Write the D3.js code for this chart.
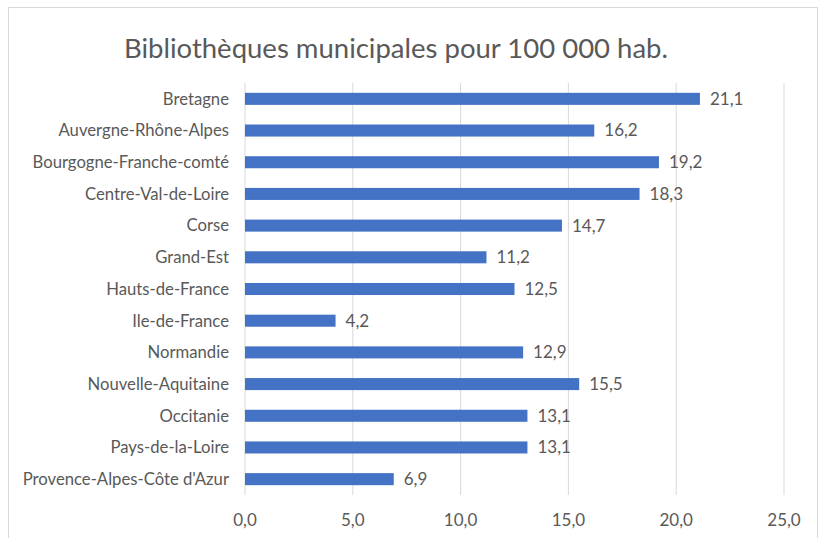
<!DOCTYPE html>
<html>
<head>
<meta charset="utf-8">
<script src="https://cdn.jsdelivr.net/npm/d3@7"></script>
<style>
  body { margin: 0; background: #fff; }
  svg text { font-family: Lato, "Open Sans", sans-serif; fill: #595959; }
</style>
</head>
<body>
<svg id="chart" width="821" height="538"></svg>
<script>
// data
const regions = ["Bretagne", "Auvergne-Rhône-Alpes", "Bourgogne-Franche-comté",
  "Centre-Val-de-Loire", "Corse", "Grand-Est", "Hauts-de-France", "Ile-de-France",
  "Normandie", "Nouvelle-Aquitaine", "Occitanie", "Pays-de-la-Loire",
  "Provence-Alpes-Côte d'Azur"];
const values = [21.1, 16.2, 19.2, 18.3, 14.7, 11.2, 12.5, 4.2, 12.9, 15.5, 13.1, 13.1, 6.9];
const ticks = [0, 5, 10, 15, 20, 25];
const title = "Bibliothèques municipales pour 100 000 hab.";

const svg = d3.select("#chart");
const fmt = v => d3.format(".1f")(v).replace(".", ",");

// chart frame
svg.append("rect")
  .attr("x", 8.5).attr("y", 7.5)
  .attr("width", 809).attr("height", 535)
  .attr("fill", "#fff")
  .attr("stroke", "#d9d9d9");

let margin = {left: 245, right: 37, top: 83, bottom: 43};
let x = d3.scaleLinear().domain([0, 25]).range([margin.left, 821 - margin.right]);
let y = d3.scaleBand().domain(regions)
  .range([margin.top, 538 - margin.bottom])
  .paddingInner(0.62).paddingOuter(0.31);

// gridlines
svg.append("g")
  .selectAll("line")
  .data(ticks)
  .join("line")
  .attr("x1", d => x(d)).attr("x2", d => x(d))
  .attr("y1", margin.top).attr("y2", 538 - margin.bottom)
  .attr("stroke", "#d9d9d9")
  .attr("stroke-width", 1);

// x tick labels
svg.append("g")
  .selectAll("text")
  .data(ticks)
  .join("text")
  .attr("x", d => x(d))
  .attr("y", 526)
  .attr("text-anchor", "middle")
  .attr("font-size", 17)
  .text(d => fmt(d));

// bars
svg.append("g")
  .selectAll("rect")
  .data(values)
  .join("rect")
  .attr("x", x(0))
  .attr("y", (d, i) => y(regions[i]))
  .attr("width", d => x(d) - x(0))
  .attr("height", y.bandwidth())
  .attr("fill", "#4472c4");

// value labels
svg.append("g")
  .selectAll("text")
  .data(values)
  .join("text")
  .attr("x", d => x(d) + 10)
  .attr("y", (d, i) => y(regions[i]) + y.bandwidth() / 2)
  .attr("dy", "0.35em")
  .attr("font-size", 17)
  .text(d => fmt(d));

// category labels
svg.append("g")
  .selectAll("text")
  .data(regions)
  .join("text")
  .attr("x", 229)
  .attr("y", d => y(d) + y.bandwidth() / 2)
  .attr("dy", "0.35em")
  .attr("text-anchor", "end")
  .attr("font-size", 16.7)
  .text(d => d);

svg.append("text")
  .attr("x", 396)
  .attr("y", 58)
  .attr("text-anchor", "middle")
  .attr("font-size", 27.5)
  .text(title);
</script>
</body>
</html>
